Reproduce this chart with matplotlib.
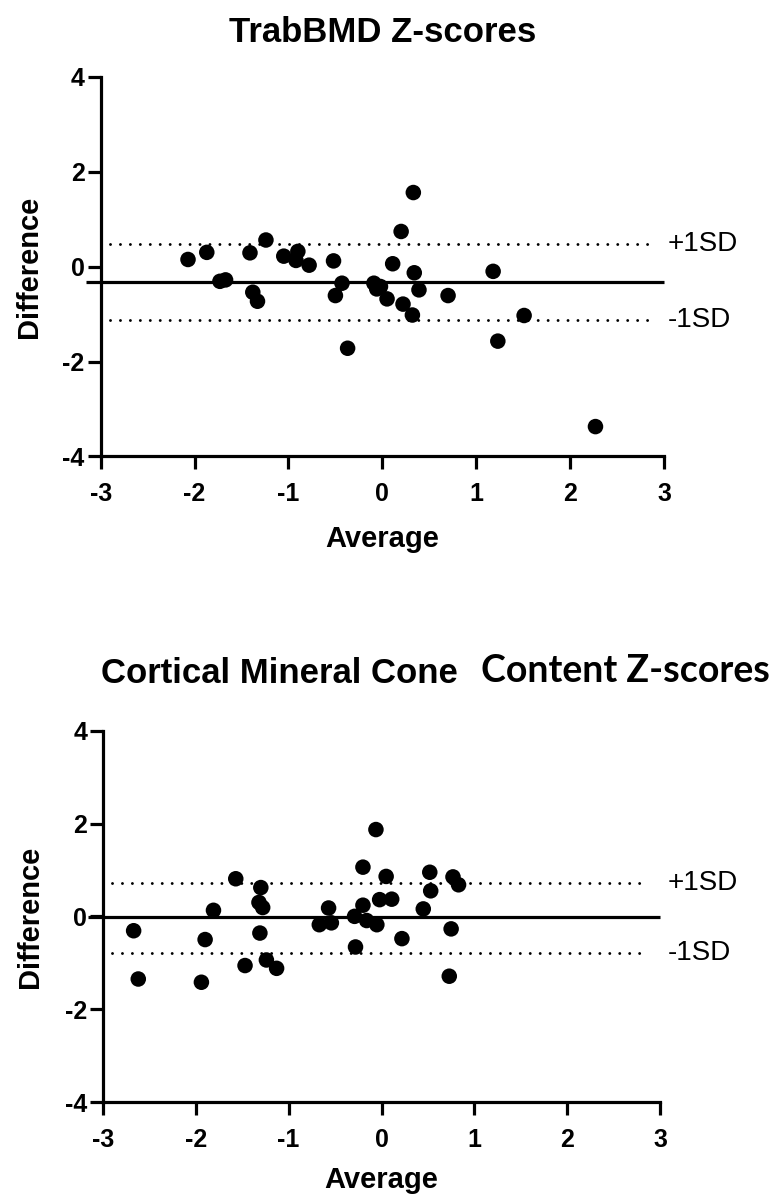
import matplotlib
matplotlib.use("Agg")
import matplotlib.pyplot as plt
from matplotlib.patches import Rectangle

plt.rcParams['font.family'] = ['Liberation Sans', 'DejaVu Sans']
plt.rcParams['axes.unicode_minus'] = False

# ---- Data: TrabBMD Z-scores ----
trab_avg = [-2.07, -1.87, -1.73, -1.67, -1.41, -1.24, -1.38, -1.33, -1.05, -0.92,
            -0.90, -0.78, -0.52, -0.43, -0.50, -0.37, -0.09, -0.06, -0.02, 0.05,
            0.11, 0.20, 0.33, 0.34, 0.22, 0.32, 0.39, 0.70, 1.18, 1.23, 1.51, 2.27]
trab_diff = [0.15, 0.30, -0.31, -0.28, 0.29, 0.56, -0.54, -0.73, 0.22, 0.13,
             0.32, 0.03, 0.12, -0.35, -0.61, -1.72, -0.35, -0.47, -0.42, -0.68,
             0.06, 0.74, 1.56, -0.13, -0.79, -1.02, -0.49, -0.61, -0.10, -1.57, -1.03, -3.37]
trab_bias = -0.33
trab_sd_hi = 0.47
trab_sd_lo = -1.13

# ---- Data: Cortical Mineral Content Z-scores ----
cort_avg = [-2.67, -2.62, -1.94, -1.90, -1.81, -1.57, -1.47, -1.30, -1.32, -1.28,
            -1.31, -1.24, -1.13, -0.67, -0.57, -0.54, -0.28, -0.29, -0.20, -0.20,
            -0.16, -0.06, -0.05, -0.02, 0.05, 0.11, 0.22, 0.45, 0.52, 0.53,
            0.73, 0.75, 0.77, 0.83]
cort_diff = [-0.31, -1.35, -1.42, -0.50, 0.13, 0.81, -1.06, 0.62, 0.30, 0.19,
             -0.36, -0.94, -1.12, -0.18, 0.18, -0.14, -0.66, 0.00, 1.06, 0.24,
             -0.09, 1.87, -0.18, 0.36, 0.86, 0.37, -0.48, 0.16, 0.95, 0.55,
             -1.29, -0.27, 0.85, 0.68]
cort_bias = -0.01
cort_sd_hi = 0.72
cort_sd_lo = -0.78

x_ticks = [-3, -2, -1, 0, 1, 2, 3]
y_ticks = [-4, -2, 0, 2, 4]
W, H = 778, 1198

fig = plt.figure(figsize=(W / 100, H / 100), dpi=100)


def px(x0, y0, x1, y1):
    return [x0 / W, 1 - y1 / H, (x1 - x0) / W, (y1 - y0) / H]


def draw(ax, xs, ys, bias, hi, lo, sd_off):
    ax.set_xlim(-3, 3)
    ax.set_ylim(-4, 4)
    for s in ['top', 'right']:
        ax.spines[s].set_visible(False)
    for s in ['left', 'bottom']:
        ax.spines[s].set_linewidth(2.3)
    ax.set_xticks(x_ticks)
    ax.set_yticks(y_ticks)
    ax.tick_params(direction='out', length=9.5, width=2.3, labelsize=18)
    ax.tick_params(axis='x', pad=9)
    ax.tick_params(axis='y', pad=2)
    for lab in ax.get_xticklabels() + ax.get_yticklabels():
        lab.set_fontweight('bold')
    ax.plot([-3.16, 3.0], [bias, bias], color='black', lw=2.3, clip_on=False,
            solid_capstyle='butt', zorder=2)
    for v in (hi, lo):
        ax.plot([-2.9, 2.87], [v, v], color='black', lw=2.1,
                linestyle=(0, (0.01, 3.4)), dash_capstyle='round', clip_on=False, zorder=2)
    ax.scatter(xs, ys, s=125, color='black', edgecolors='none', zorder=3, clip_on=False)
    ax.text(1.0 + sd_off, hi, '+1SD', transform=ax.get_yaxis_transform(), fontsize=20,
            ha='left', va='center')
    ax.text(1.0 + sd_off, lo, '-1SD', transform=ax.get_yaxis_transform(), fontsize=20,
            ha='left', va='center')


ax1 = fig.add_axes(px(100.7, 76.7, 664, 456.5))
draw(ax1, trab_avg, trab_diff, trab_bias, trab_sd_hi, trab_sd_lo, 4 / 563.3)

ax2 = fig.add_axes(px(103, 730.7, 660, 1102))
draw(ax2, cort_avg, cort_diff, cort_bias, cort_sd_hi, cort_sd_lo, 8 / 557)

# Titles
fig.text(382.5 / W, 1 - 42 / H, 'TrabBMD Z-scores', ha='center', va='baseline',
         fontsize=25, fontweight='bold')
fig.text(101 / W, 1 - 683 / H, 'Cortical Mineral Cone', ha='left', va='baseline',
         fontsize=25, fontweight='bold')
fig.patches.append(Rectangle((471 / W, 1 - 700 / H), 40 / W, 60 / H,
                             transform=fig.transFigure, facecolor='white',
                             edgecolor='none', zorder=5))
fig.text(481 / W, 1 - 682 / H, 'Content Z-scores', ha='left', va='baseline',
         fontsize=27, fontweight='bold', family=['Lato', 'DejaVu Sans'], zorder=6)

# Axis labels
fig.text(382 / W, 1 - 547 / H, 'Average', ha='center', va='baseline',
         fontsize=21, fontweight='bold')
fig.text(381 / W, 1 - 1188 / H, 'Average', ha='center', va='baseline',
         fontsize=21, fontweight='bold')
fig.text(29 / W, 1 - 266.6 / H, 'Difference', ha='center', va='center',
         rotation=90, fontsize=21, fontweight='bold')
fig.text(30 / W, 1 - 916.4 / H, 'Difference', ha='center', va='center',
         rotation=90, fontsize=21, fontweight='bold')

fig.savefig('out.png', dpi=100, facecolor='white')
